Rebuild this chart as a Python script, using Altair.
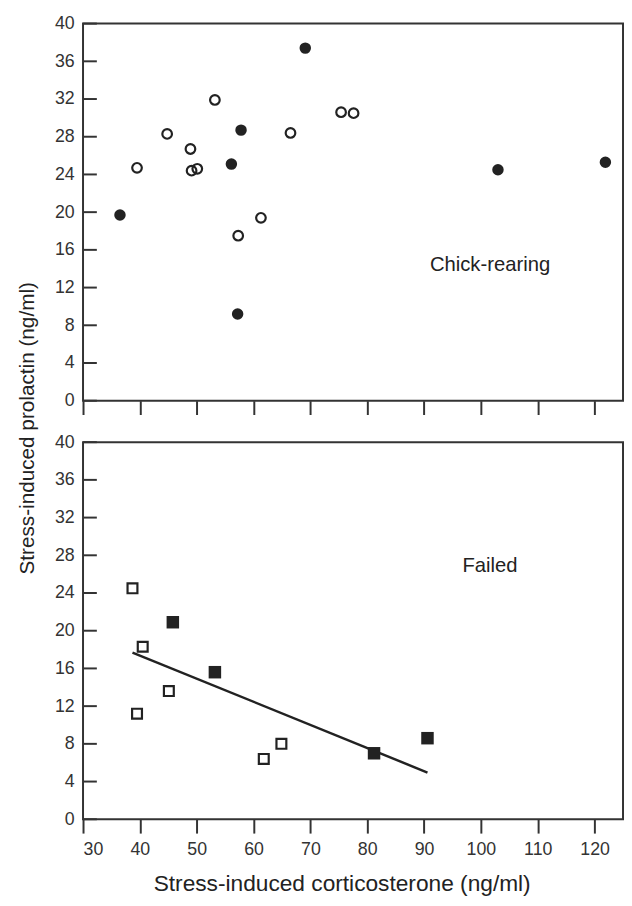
import altair as alt
import pandas as pd

# ---------------- data ----------------
x_ticks = [30, 40, 50, 60, 70, 80, 90, 100, 110, 120]
y_ticks = [0, 4, 8, 12, 16, 20, 24, 28, 32, 36, 40]

# Chick-rearing panel (circles)
rear_filled_x = [36.5, 56.1, 57.8, 57.2, 69.1, 103.0, 121.9]
rear_filled_y = [19.7, 25.1, 28.7, 9.2, 37.4, 24.5, 25.3]
rear_open_x = [39.5, 44.8, 48.9, 49.1, 50.1, 53.2, 57.3, 61.3, 66.5, 75.4, 77.6]
rear_open_y = [24.7, 28.3, 26.7, 24.4, 24.6, 31.9, 17.5, 19.4, 28.4, 30.6, 30.5]

# Failed panel (squares)
fail_filled_x = [45.8, 53.2, 81.2, 90.6]
fail_filled_y = [20.9, 15.6, 7.0, 8.6]
fail_open_x = [38.7, 40.5, 45.1, 39.5, 64.9, 61.8]
fail_open_y = [24.5, 18.3, 13.6, 11.2, 8.0, 6.4]

panel_labels = ["Chick-rearing", "Failed"]
label_x = [101.6, 101.6]
label_y = [13.75, 26.2]

x_title = "Stress-induced corticosterone (ng/ml)"
y_title = "Stress-induced prolactin (ng/ml)"

# ---------------- style ----------------
W, H = 547, 382
INK = "#222222"
AX = "#333333"
FONT = "Liberation Sans"
LABEL_SIZE = 18

xscale = alt.Scale(domain=[30, 125], nice=False, zero=False)
yscale = alt.Scale(domain=[0, 40], nice=False, zero=False)


def X(field, show_labels):
    if show_labels:
        ax = alt.Axis(values=x_ticks, title=x_title, labels=True, ticks=True,
                      tickSize=14, tickWidth=2, tickColor=AX, domain=False,
                      grid=False, labelFontSize=LABEL_SIZE, labelColor=AX,
                      labelPadding=8, titleFontSize=23, titleFontWeight="normal",
                      titleColor=INK, titlePadding=14, titleX=262, labelFont=FONT,
                      titleFont=FONT)
    else:
        ax = alt.Axis(values=x_ticks, title=None, labels=False, ticks=True,
                      tickSize=14, tickWidth=2, tickColor=AX, domain=False,
                      grid=False)
    return alt.X(field, type="quantitative", scale=xscale, axis=ax)


def Y(field):
    ax = alt.Axis(values=y_ticks, title=None, ticks=False, domain=False,
                  grid=False, labelFontSize=LABEL_SIZE, labelColor=AX,
                  labelPadding=9, labelFont=FONT)
    return alt.Y(field, type="quantitative", scale=yscale, axis=ax)


def panel(shape, fx, fy, ox, oy, label_idx, show_x_labels, fsize, osize, regression):
    filled = pd.DataFrame({"x": fx, "y": fy})
    opened = pd.DataFrame({"x": ox, "y": oy})
    ticks = pd.DataFrame({"v": y_ticks})
    lab = pd.DataFrame({"x": [label_x[label_idx]], "y": [label_y[label_idx]],
                        "t": [panel_labels[label_idx]]})

    tick_layer = alt.Chart(ticks).mark_rule(color=AX, strokeWidth=2).encode(
        y=Y("v"), x=alt.value(0), x2=alt.value(14))

    layers = [tick_layer]
    if regression:
        both = pd.DataFrame({"x": fx + ox, "y": fy + oy})
        reg = alt.Chart(both).transform_regression("x", "y").mark_line(
            color=INK, strokeWidth=2.5).encode(x=X("x", show_x_labels), y=Y("y"))
        layers.append(reg)

    open_layer = alt.Chart(opened).mark_point(
        shape=shape, filled=False, size=osize, strokeWidth=2.2, color=INK,
        opacity=1).encode(x=X("x", show_x_labels), y=Y("y"))
    fill_layer = alt.Chart(filled).mark_point(
        shape=shape, filled=True, size=fsize, color=INK, opacity=1).encode(
        x=X("x", show_x_labels), y=Y("y"))
    text_layer = alt.Chart(lab).mark_text(
        fontSize=20.5, font=FONT, color=INK, align="center",
        baseline="alphabetic").encode(x=X("x", show_x_labels), y=Y("y"), text="t:N")
    layers += [open_layer, fill_layer, text_layer]
    return layers


top_layers = panel("circle", rear_filled_x, rear_filled_y, rear_open_x,
                   rear_open_y, 0, False, 135, 95, False)
ytitle = alt.Chart(pd.DataFrame({"t": [y_title]})).mark_text(
    angle=270, fontSize=21, font=FONT, color=INK, align="center",
    baseline="middle").encode(x=alt.value(-56), y=alt.value(410), text="t:N")
top = alt.layer(*top_layers, ytitle).properties(width=W, height=H)

bottom_layers = panel("square", fail_filled_x, fail_filled_y, fail_open_x,
                      fail_open_y, 1, True, 160, 100, True)
bottom = alt.layer(*bottom_layers).properties(width=W, height=H)

chart = alt.vconcat(top, bottom, spacing=42, bounds="flush").properties(
    padding={"left": 8, "top": 0, "right": 0, "bottom": 0},
    background="white",
).configure_view(stroke=AX, strokeWidth=2).configure_text(
    font=FONT).configure_axis(labelFontSize=LABEL_SIZE, labelFont=FONT,
                              labelColor=AX)

chart.save("out.html", embed_options={"renderer": "svg", "actions": False})
